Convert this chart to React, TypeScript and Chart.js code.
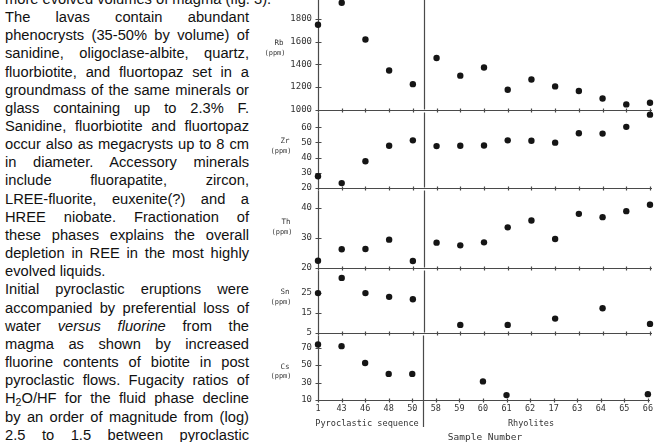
import React, { useEffect, useRef } from "react";
import { Chart, registerables } from "chart.js";

Chart.register(...registerables);

// Sample numbers along the x axis: pyroclastic sequence first, then rhyolites
const SAMPLES = ["1", "43", "46", "48", "50", "58", "59", "60", "61", "62", "17", "63", "64", "65", "66"];
const FIRST_RHYOLITE = "58";

// Trace element contents in ppm (null = not plotted)
const RB = [1750, 1945, 1620, 1346, 1225, 1456, 1300, 1372, 1176, 1266, 1205, 1164, 1098, 1046, 1061];
const ZR = [27.5, 23.0, 37.5, 47.8, 51.4, 47.6, 47.8, 48.0, 51.4, 51.2, 49.9, 56.1, 55.9, 60.4, 68.5];
const TH = [22.3, 26.1, 26.2, 29.3, 22.2, 28.3, 27.4, 28.4, 33.4, 35.7, 29.5, 37.9, 36.8, 38.8, 40.9];
const SN = [25.0, 32.7, 25.0, 23.1, 21.9, null, 8.9, null, 8.9, null, 12.1, null, 17.3, null, 9.4];
const CS = [73.6, 71.7, 52.3, 39.9, 39.9, null, null, 31.3, 15.6, null, null, null, null, null, 16.7];

// Labelled ticks on each panel's vertical axis
const RB_TICKS = [1000, 1200, 1400, 1600, 1800, 2000];
const ZR_TICKS = [20, 30, 40, 50, 60];
const TH_TICKS = [20, 30, 40];
const SN_TICKS = [5, 15, 25];
const CS_TICKS = [10, 30, 50, 70];

// Geometry of the stacked panels (page pixels)
const CANVAS_LEFT = 240;
const AXIS_X = 318;
const RIGHT_X = 650;
const CANVAS_W = 657 - CANVAS_LEFT;
const PAD = 10;
const X_AXIS_H = 14;
const LAST_PAD = 30;

const INK = "#151515";
const RULE = "#4a4a4a";
const LETTER = "'DejaVu Sans Mono', monospace";

const PANELS = [
  { element: "Rb", values: RB, ticks: RB_TICKS, min: 1000, max: 2080, top: -14, bottom: 111, name: [279, 43], unit: [275, 53] },
  { element: "Zr", values: ZR, ticks: ZR_TICKS, min: 20, max: 70, top: 111, bottom: 189, name: [285, 141], unit: [281, 151] },
  { element: "Th", values: TH, ticks: TH_TICKS, min: 20, max: 45.7, top: 189, bottom: 269, name: [286, 222], unit: [282, 232] },
  { element: "Sn", values: SN, ticks: SN_TICKS, min: 5, max: 36.5, top: 269, bottom: 334, name: [285, 292], unit: [281, 302] },
  { element: "Cs", values: CS, ticks: CS_TICKS, min: 10, max: 84, top: 334, bottom: 400, name: [285, 367], unit: [281, 376] },
];

// Axis frame: left axis, bottom rule, crossing tick marks and the sequence divider
function framePlugin(extend: number) {
  return {
    id: "panelFrame",
    beforeDatasetsDraw(chart: any) {
      const { ctx, chartArea: a, scales } = chart;
      const x = scales.x;
      const y = scales.y;
      const left = Math.round(a.left) + 0.5;
      const bottom = Math.round(a.bottom) + 0.5;
      ctx.save();
      ctx.strokeStyle = RULE;
      ctx.lineWidth = 1.2;
      ctx.beginPath();
      ctx.moveTo(left, a.top);
      ctx.lineTo(left, a.bottom);
      ctx.moveTo(left - 3, bottom);
      ctx.lineTo(a.right + 2, bottom);
      SAMPLES.forEach((_, i) => {
        const px = Math.round(x.getPixelForValue(i)) + 0.5;
        ctx.moveTo(px, bottom - 2);
        ctx.lineTo(px, bottom + 2);
      });
      y.ticks.forEach((t: any) => {
        const py = Math.round(y.getPixelForValue(t.value)) + 0.5;
        ctx.moveTo(left - 3, py);
        ctx.lineTo(left + 3, py);
      });
      const split = SAMPLES.indexOf(FIRST_RHYOLITE);
      const sx = Math.round((x.getPixelForValue(split - 1) + x.getPixelForValue(split)) / 2) - 0.5;
      ctx.moveTo(sx, a.top);
      ctx.lineTo(sx, a.bottom + extend);
      ctx.stroke();
      ctx.restore();
    },
  };
}

function Panel({ spec, last }: { spec: any; last: boolean }) {
  const ref = useRef<HTMLCanvasElement>(null);
  const padBottom = last ? LAST_PAD : PAD;
  const xh = last ? X_AXIS_H : 0;
  const height = spec.bottom - spec.top + PAD + padBottom + xh;
  const canvasTop = spec.top - PAD;

  useEffect(() => {
    if (!ref.current) return;
    const chart = new Chart(ref.current, {
      type: "line",
      data: {
        labels: SAMPLES,
        datasets: [
          {
            data: spec.values,
            showLine: false,
            pointRadius: 3.2,
            pointBackgroundColor: INK,
            pointBorderWidth: 0,
            clip: false as any,
          },
        ],
      },
      options: {
        responsive: false,
        animation: false,
        devicePixelRatio: 1,
        events: [],
        layout: { padding: { top: PAD, bottom: padBottom, left: 0, right: CANVAS_W - (RIGHT_X - CANVAS_LEFT) } },
        plugins: { legend: { display: false }, tooltip: { enabled: false } },
        scales: {
          x: {
            type: "category",
            offset: false,
            display: last,
            grid: { display: false, drawTicks: false },
            border: { display: false },
            ticks: {
              autoSkip: false,
              maxRotation: 0,
              padding: 4,
              color: "#333",
              font: { family: LETTER, size: 8.5 },
            },
            afterFit: (axis: any) => {
              axis.height = last ? X_AXIS_H : 0;
            },
          },
          y: {
            type: "linear",
            min: spec.min,
            max: spec.max,
            grid: { display: false, drawTicks: false },
            border: { display: false },
            afterBuildTicks: (axis: any) => {
              axis.ticks = spec.ticks.map((v: number) => ({ value: v }));
            },
            ticks: {
              padding: 6,
              color: "#333",
              font: { family: LETTER, size: 9 },
              callback: (v: any) => String(v),
            },
            afterFit: (axis: any) => {
              axis.width = AXIS_X - CANVAS_LEFT;
            },
          },
        },
      } as any,
      plugins: [framePlugin(last ? 27 : 0)],
    });
    return () => chart.destroy();
  }, []);

  return (
    <canvas
      ref={ref}
      width={CANVAS_W}
      height={height}
      style={{ position: "absolute", left: CANVAS_LEFT, top: canvasTop, width: CANVAS_W, height }}
    />
  );
}

type Seg = string | { t: string; italic?: boolean; sub?: boolean };

const BODY_LINES: { segs: Seg[]; justify: boolean }[] = [
  { segs: ["more evolved volumes of magma (fig. 3)."], justify: false },
  { segs: ["The lavas contain abundant"], justify: true },
  { segs: ["phenocrysts (35-50% by volume) of"], justify: true },
  { segs: ["sanidine, oligoclase-albite, quartz,"], justify: true },
  { segs: ["fluorbiotite, and fluortopaz set in a"], justify: true },
  { segs: ["groundmass of the same minerals or"], justify: true },
  { segs: ["glass containing up to 2.3% F."], justify: true },
  { segs: ["Sanidine, fluorbiotite and fluortopaz"], justify: true },
  { segs: ["occur also as megacrysts up to 8 cm"], justify: true },
  { segs: ["in diameter. Accessory minerals"], justify: true },
  { segs: ["include fluorapatite, zircon,"], justify: true },
  { segs: ["LREE-fluorite, euxenite(?) and a"], justify: true },
  { segs: ["HREE niobate. Fractionation of"], justify: true },
  { segs: ["these phases explains the overall"], justify: true },
  { segs: ["depletion in REE in the most highly"], justify: true },
  { segs: ["evolved liquids."], justify: false },
  { segs: ["Initial pyroclastic eruptions were"], justify: true },
  { segs: ["accompanied by preferential loss of"], justify: true },
  { segs: ["water ", { t: "versus fluorine", italic: true }, " from the"], justify: true },
  { segs: ["magma as shown by increased"], justify: true },
  { segs: ["fluorine contents of biotite in post"], justify: true },
  { segs: ["pyroclastic flows. Fugacity ratios of"], justify: true },
  { segs: ["H", { t: "2", sub: true }, "O/HF for the fluid phase decline"], justify: true },
  { segs: ["by an order of magnitude from (log)"], justify: true },
  { segs: ["2.5 to 1.5 between pyroclastic"], justify: true },
];

function baselineOf(k: number) {
  if (k === 0) return 4.5;
  if (k <= 22) return 22.3 + 18.15 * (k - 1);
  return k === 23 ? 422.5 : 440;
}

function renderSeg(s: Seg, i: number) {
  if (typeof s === "string") return <React.Fragment key={i}>{s}</React.Fragment>;
  if (s.sub)
    return (
      <span key={i} style={{ fontSize: 10.5, position: "relative", top: 3, lineHeight: 0 }}>
        {s.t}
      </span>
    );
  return (
    <i key={i} style={{ fontStyle: s.italic ? "italic" : "normal" }}>
      {s.t}
    </i>
  );
}

function Caption({ text, x, y, size }: { text: string; x: number; y: number; size: number }) {
  return (
    <div
      style={{
        position: "absolute",
        left: x,
        top: y,
        transform: "translate(-50%, -50%)",
        fontFamily: LETTER,
        fontSize: size,
        lineHeight: 1,
        color: "#333",
        whiteSpace: "nowrap",
      }}
    >
      {text}
    </div>
  );
}

const BODY_SIZE = 14.7;

export default function App() {
  return (
    <div
      style={{
        position: "fixed",
        left: 0,
        top: 0,
        width: 657,
        height: 442,
        overflow: "hidden",
        background: "#fff",
      }}
    >
      {BODY_LINES.map((line, k) => (
        <div
          key={k}
          style={{
            position: "absolute",
            left: 5,
            top: baselineOf(k) - 14.2,
            width: 244,
            fontFamily: "'Liberation Sans', Arial, sans-serif",
            fontSize: BODY_SIZE,
            lineHeight: "18px",
            letterSpacing: 0,
            color: "#111",
            textAlign: line.justify ? "justify" : "left",
            textAlignLast: line.justify ? "justify" : "left",
            whiteSpace: line.justify ? "normal" : "nowrap",
          }}
        >
          {line.segs.map(renderSeg)}
        </div>
      ))}
      {PANELS.map((p, i) => (
        <Panel key={p.element} spec={p} last={i === PANELS.length - 1} />
      ))}
      {PANELS.map((p) => (
        <React.Fragment key={p.element + "-label"}>
          <Caption text={p.element} x={p.name[0]} y={p.name[1]} size={7.5} />
          <Caption text="(ppm)" x={p.unit[0]} y={p.unit[1]} size={7} />
        </React.Fragment>
      ))}
      <Caption text="Pyroclastic sequence" x={367} y={423} size={8.6} />
      <Caption text="Rhyolites" x={531} y={423} size={8.5} />
      <Caption text="Sample Number" x={485} y={437} size={9.5} />
    </div>
  );
}
